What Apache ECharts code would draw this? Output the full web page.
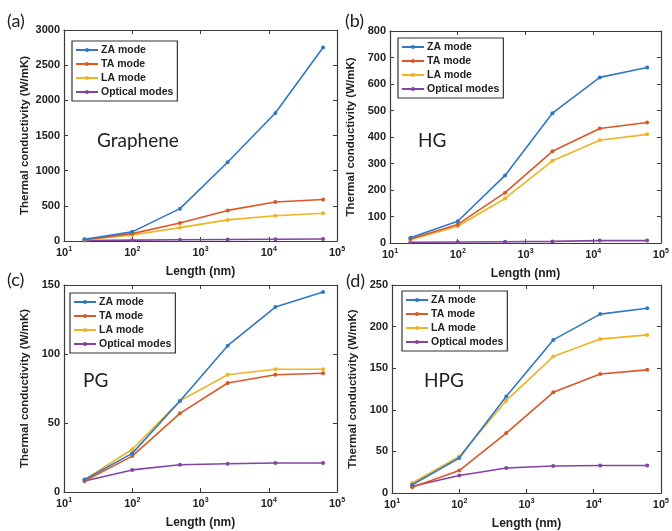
<!DOCTYPE html>
<html>
<head>
<meta charset="utf-8">
<script src="https://cdn.jsdelivr.net/npm/echarts@6/dist/echarts.min.js"></script>
<style>
html,body{margin:0;padding:0;background:#fff;}
#chart{width:672px;height:531px;}
</style>
</head>
<body>
<div id="chart"></div>
<script>
// ---- data ----
const lengths = [20, 100, 500, 2500, 12500, 62500];
const seriesNames = ['ZA mode', 'TA mode', 'LA mode', 'Optical modes'];
const xTickExponents = [1, 2, 3, 4, 5];

const grapheneZA = [25, 130, 460, 1120, 1820, 2750];
const grapheneTA = [20, 105, 255, 435, 555, 590];
const grapheneLA = [15, 85, 190, 300, 360, 395];
const grapheneOpt = [8, 12, 18, 22, 25, 28];

const hgZA = [20, 82, 255, 490, 625, 662];
const hgTA = [15, 70, 190, 346, 432, 455];
const hgLA = [12, 63, 168, 310, 388, 410];
const hgOpt = [3, 4, 5, 6, 9, 9];

const pgZA = [9, 28, 66, 106, 134, 145];
const pgTA = [8, 26, 57, 79, 85, 86];
const pgLA = [9, 31, 66, 85, 89, 89];
const pgOpt = [8, 16, 19.7, 20.5, 21, 21];

const hpgZA = [10, 42, 116, 184, 215, 222];
const hpgTA = [7, 27, 72, 121, 143, 148];
const hpgLA = [12, 44, 111, 164, 185, 190];
const hpgOpt = [8, 21, 30, 32.5, 33, 33];

const grapheneTicks = [0, 500, 1000, 1500, 2000, 2500, 3000];
const hgTicks = [0, 100, 200, 300, 400, 500, 600, 700, 800];
const pgTicks = [0, 50, 100, 150];
const hpgTicks = [0, 50, 100, 150, 200, 250];

const panelLabels = ['(a)', '(b)', '(c)', '(d)'];
const materialNames = ['Graphene', 'HG', 'PG', 'HPG'];
const xAxisName = 'Length (nm)';
const yAxisName = 'Thermal conductivity (W/mK)';

// ---- layout / style ----
const colors = ['#2f78c2', '#dc5726', '#efb323', '#8343a3'];
const axisColor = '#3a3a3a';
const textColor = '#222';
const grids = [
  {left: 64, top: 30, width: 273, height: 211},
  {left: 390, top: 31, width: 278, height: 212},
  {left: 64, top: 285, width: 273, height: 207},
  {left: 392, top: 285, width: 276, height: 208}
];
const legendPos = [
  {left: 72, top: 41}, {left: 398, top: 38}, {left: 70, top: 293}, {left: 402, top: 291}
];
const labelPos = [
  {left: 7, top: 12}, {left: 345, top: 12}, {left: 7, top: 271}, {left: 346, top: 272}
];
const namePos = [
  {left: 97, top: 131}, {left: 418, top: 131}, {left: 83, top: 371}, {left: 424, top: 371}
];

const panels = [
  {ticks: grapheneTicks, data: [grapheneZA, grapheneTA, grapheneLA, grapheneOpt]},
  {ticks: hgTicks, data: [hgZA, hgTA, hgLA, hgOpt]},
  {ticks: pgTicks, data: [pgZA, pgTA, pgLA, pgOpt]},
  {ticks: hpgTicks, data: [hpgZA, hpgTA, hpgLA, hpgOpt]}
];

const xMin = Math.pow(10, xTickExponents[0]);
const xMax = Math.pow(10, xTickExponents[xTickExponents.length - 1]);

const option = {
  backgroundColor: '#fff',
  animation: false,
  color: colors,
  grid: grids.map(g => Object.assign({containLabel: false}, g)),
  title: [],
  legend: [],
  xAxis: [],
  yAxis: [],
  series: []
};

panels.forEach((p, i) => {
  const yMin = p.ticks[0], yMax = p.ticks[p.ticks.length - 1];
  const interval = p.ticks[1] - p.ticks[0];
  option.xAxis.push({
    type: 'log', logBase: 10, gridIndex: i, min: xMin, max: xMax, position: 'bottom',
    name: xAxisName, nameLocation: 'middle', nameGap: 25,
    nameTextStyle: {fontFamily: 'Liberation Sans', fontWeight: 'bold', fontSize: 12, color: textColor},
    axisLine: {show: true, onZero: false, lineStyle: {color: axisColor, width: 1.2}},
    axisTick: {show: true, inside: true, length: 4, lineStyle: {color: axisColor}},
    splitLine: {show: false},
    axisLabel: {
      margin: 5,
      formatter: v => '{b|10}{s|' + Math.round(Math.log10(v)) + '}',
      rich: {
        b: {fontFamily: 'Liberation Sans', fontWeight: 'bold', fontSize: 11, color: textColor},
        s: {fontFamily: 'Liberation Sans', fontWeight: 'bold', fontSize: 7, color: textColor, padding: [0, 0, 7, 0]}
      }
    }
  });
  option.xAxis.push({
    type: 'log', logBase: 10, gridIndex: i, min: xMin, max: xMax, position: 'top',
    axisLine: {show: true, onZero: false, lineStyle: {color: axisColor, width: 1.2}},
    axisTick: {show: true, inside: true, length: 4, lineStyle: {color: axisColor}},
    splitLine: {show: false},
    axisLabel: {show: false}
  });
  option.yAxis.push({
    type: 'value', gridIndex: i, min: yMin, max: yMax, interval: interval, position: 'left',
    name: yAxisName, nameLocation: 'middle', nameGap: 33, nameRotate: 90,
    nameTextStyle: {fontFamily: 'Liberation Sans', fontWeight: 'bold', fontSize: 11.5, color: textColor},
    axisLine: {show: true, onZero: false, lineStyle: {color: axisColor, width: 1.2}},
    axisTick: {show: true, inside: true, length: 4, lineStyle: {color: axisColor}},
    splitLine: {show: false},
    axisLabel: {margin: 4, formatter: v => String(v), fontFamily: 'Liberation Sans', fontWeight: 'bold', fontSize: 11, color: textColor}
  });
  option.yAxis.push({
    type: 'value', gridIndex: i, min: yMin, max: yMax, interval: interval, position: 'right',
    axisLine: {show: true, onZero: false, lineStyle: {color: axisColor, width: 1.2}},
    axisTick: {show: true, inside: true, length: 4, lineStyle: {color: axisColor}},
    splitLine: {show: false},
    axisLabel: {show: false}
  });
  p.data.forEach((vals, k) => {
    option.series.push({
      type: 'line', name: seriesNames[k], xAxisIndex: 2 * i, yAxisIndex: 2 * i,
      data: lengths.map((x, j) => [x, vals[j]]),
      symbol: 'circle', symbolSize: 4, showSymbol: true,
      lineStyle: {width: 1.6, color: colors[k]},
      itemStyle: {color: colors[k]},
      z: 10 - k
    });
  });
  option.legend.push(Object.assign({
    data: seriesNames, orient: 'vertical', itemWidth: 22, itemHeight: 5, itemGap: 2,
    padding: [3, 4, 3, 3], backgroundColor: '#fff', borderColor: '#333', borderWidth: 1.2,
    selectedMode: false,
    textStyle: {fontFamily: 'Liberation Sans', fontWeight: 'bold', fontSize: 10.5, lineHeight: 12, color: textColor, padding: [0, 0, 0, -2]}
  }, legendPos[i]));
  option.title.push(Object.assign({
    text: panelLabels[i], padding: 0,
    textStyle: {fontFamily: 'Lato', fontWeight: 'normal', fontSize: 18, color: textColor}
  }, labelPos[i]));
  option.title.push(Object.assign({
    text: materialNames[i], padding: 0,
    textStyle: {fontFamily: 'Lato', fontWeight: 'normal', fontSize: 19, color: textColor}
  }, namePos[i]));
});

const chart = echarts.init(document.getElementById('chart'), null, {renderer: 'canvas'});
chart.setOption(option);
</script>
</body>
</html>
